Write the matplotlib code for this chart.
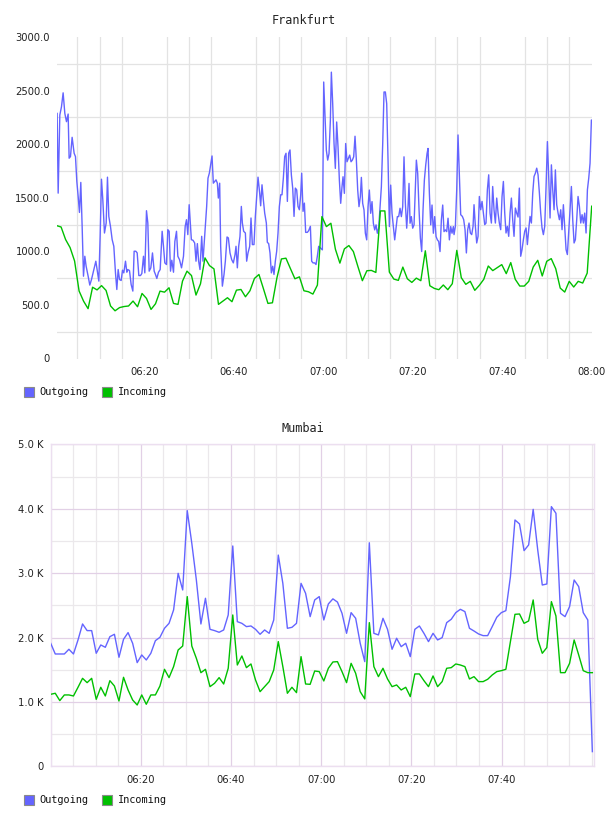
import numpy as np
import matplotlib
matplotlib.use("Agg")
import matplotlib.pyplot as plt
from matplotlib.patches import Rectangle
from matplotlib.ticker import MultipleLocator, FixedLocator

# === Data ===
SERIES = ["Outgoing", "Incoming"]
COLORS = ["#6464ff", "#00c000"]

# x values are minutes after 06:00
TIME_TICKS = [20, 40, 60, 80, 100, 120]
TIME_LABELS = ["06:20", "06:40", "07:00", "07:20", "07:40", "08:00"]

FRA_TICKS = [0, 500, 1000, 1500, 2000, 2500, 3000]
FRA_TICK_LABELS = ["0", "500.0", "1000.0", "1500.0", "2000.0", "2500.0", "3000.0"]
MUM_TICKS = [0, 1000, 2000, 3000, 4000, 5000]
MUM_TICK_LABELS = ["0", "1.0 K", "2.0 K", "3.0 K", "4.0 K", "5.0 K"]

# Frankfurt outgoing (irregular sampling)
fra_out_min = [
    0.52, 0.75, 1.12, 1.49, 1.86, 2.24, 2.61, 2.98, 3.2, 3.5, 3.87, 4.32, 4.62, 4.92, 5.22,
    5.51, 5.81, 6.11, 6.41, 6.71, 7.0, 7.45, 7.82, 8.2, 8.64, 9.17, 9.46, 9.84, 10.13, 10.43,
    10.73, 11.1, 11.48, 11.77, 12.07, 12.44, 12.82, 13.19, 13.56, 13.86, 14.16, 14.46, 14.83,
    15.13, 15.42, 15.8, 16.1, 16.32, 16.69, 17.06, 17.44, 17.73, 18.11, 18.41, 18.78, 19.15,
    19.45, 19.82, 20.12, 20.49, 20.79, 21.09, 21.46, 21.83, 22.21, 22.5, 22.8, 23.17, 23.55,
    23.99, 24.29, 24.59, 24.96, 25.26, 25.56, 25.86, 26.15, 26.53, 26.83, 27.2, 27.5, 27.87,
    28.32, 28.76, 29.14, 29.43, 29.73, 30.03,
    30.52, 30.89, 31.26, 31.56, 31.86, 32.15, 32.45, 32.83, 33.12, 33.5, 33.94, 34.24, 34.54,
    34.84, 35.14, 35.43, 35.73, 36.03, 36.33, 36.55, 36.85, 37.07, 37.45, 37.82, 38.12, 38.49,
    38.79, 39.16, 39.53, 39.9, 40.28, 40.5, 40.8, 41.1, 41.39, 41.69, 41.92, 42.21, 42.59,
    42.88, 43.18, 43.56, 43.85, 44.15, 44.52, 44.82, 45.12, 45.42, 45.79, 46.01, 46.31, 46.61,
    46.91, 47.28, 47.5, 47.8, 48.1, 48.4, 48.7, 48.99, 49.29, 49.59, 49.89, 50.19, 50.49,
    50.78, 51.08, 51.38, 51.68, 51.98, 52.27, 52.57, 52.87, 53.17, 53.47, 53.76, 54.06, 54.36,
    54.66, 54.96, 55.18, 55.48, 55.78, 56.07, 56.45, 56.74, 57.12, 57.41, 57.71, 58.09, 58.38,
    58.68, 58.98, 59.35,
    59.8, 60.1, 60.39, 60.69, 60.99, 61.29, 61.59, 61.81, 62.11, 62.41, 62.7, 63.0, 63.3, 63.6,
    63.9, 64.19, 64.42, 64.72, 65.01, 65.31, 65.61, 65.91, 66.21, 66.5, 66.8, 67.1, 67.4, 67.7,
    67.99, 68.29, 68.52, 68.81, 69.11, 69.41, 69.71, 70.01, 70.3, 70.6, 70.9, 71.2, 71.5, 71.8,
    72.09, 72.39, 72.69, 72.99, 73.29, 73.58, 73.88, 74.18, 74.48, 74.78, 75.07, 75.37, 75.67,
    75.97, 76.27, 76.56, 76.86, 77.16, 77.46, 77.76, 78.05, 78.35, 78.65, 78.95, 79.17, 79.4,
    79.69, 79.99, 80.29, 80.59, 80.81, 81.11, 81.41, 81.71, 82.0, 82.3, 82.6, 82.9, 83.2,
    83.42, 83.72, 84.02, 84.31, 84.61, 84.91, 85.21, 85.51, 85.8, 86.1, 86.4, 86.7, 86.99,
    87.29, 87.59, 87.89, 88.19, 88.49, 88.78, 89.08,
    89.23, 89.53, 89.83, 90.12, 90.42, 90.72, 91.09, 91.39, 91.69, 91.99, 92.28, 92.58, 92.88,
    93.18, 93.48, 93.7, 94.0, 94.3, 94.6, 94.89, 95.19, 95.49, 95.79, 96.09, 96.38, 96.68,
    96.98, 97.28, 97.58, 97.87, 98.17, 98.47, 98.77, 99.07, 99.36, 99.66, 99.96, 100.26,
    100.56, 100.85, 101.15, 101.45, 101.75, 102.05, 102.34, 102.64, 102.94, 103.24, 103.54,
    103.83, 104.13, 104.43, 104.73, 105.03, 105.33, 105.62, 105.92, 106.22, 106.52, 106.82,
    107.11, 107.41, 107.71, 108.01, 108.31, 108.6, 108.9, 109.2, 109.5, 109.8, 110.1, 110.39,
    110.69, 110.99, 111.29, 111.59, 111.88, 112.18, 112.48, 112.78, 113.08, 113.37, 113.67,
    113.97, 114.27, 114.56, 114.86, 115.16, 115.46, 115.76, 116.06, 116.35, 116.65, 116.95,
    117.25, 117.55, 117.85, 118.14, 118.44, 118.74, 119.04, 119.34, 119.63, 119.93, 120.0,
]
fra_out = [
    2287, 1543, 2272, 2349, 2479, 2287, 2210, 2281, 1869, 1884, 2064, 1915, 1884, 1652, 1512,
    1363, 1643, 1233, 768, 954, 861, 768, 685, 737, 815, 908, 830, 722, 1140, 1673,
    1481, 1171, 1264, 1692, 1326, 1233, 1109, 1047, 799, 644, 830, 737, 728,
    824, 799, 908, 805, 830, 821, 691, 629, 1001, 1001, 985, 774, 774,
    793, 954, 799, 1379, 1264, 815, 846, 985, 815, 784, 747, 805, 830,
    1187, 1047, 892, 877, 1202, 1187, 815, 917, 805, 1091, 1187, 954, 923,
    846, 954, 1233, 1295, 1156, 1435,
    1109, 1103, 1078, 908, 1072, 908, 830, 1140, 908, 1140, 1419, 1683, 1729,
    1807, 1890, 1636, 1652, 1667, 1636, 1497, 1636, 1047, 675, 784, 908, 1134,
    1125, 985, 923, 892, 970, 1047, 846, 1047, 1140, 1419, 1264, 1187, 1171,
    908, 985, 1047, 1311, 1063, 1063, 1326, 1512, 1692, 1543, 1425, 1621, 1481,
    1357, 1264, 1084, 1072, 985, 799, 861, 784, 908, 1001, 1171, 1419, 1528,
    1528, 1683, 1884, 1915, 1466, 1915, 1946, 1714, 1590, 1326, 1590, 1574, 1419,
    1388, 1528, 1729, 1373, 1450, 1177, 1177, 1193, 1233, 908, 892, 892, 877,
    954, 1047, 1032,
    1014, 2580, 2254, 1944, 1851, 1913, 2223, 2672, 2378, 2006, 1774, 2207, 1975, 1665,
    1448, 1603, 1696, 1541, 2006, 1836, 1867, 1898, 1836, 1851, 1882, 2074, 1851, 1572,
    1417, 1510, 1690, 1448, 1386, 1169, 1107, 1417, 1572, 1355, 1464, 1262, 1200, 1247,
    1169, 1216, 1417, 1603, 2006, 2487, 2487, 2378, 1851, 1231, 1618, 1355, 1231,
    1107, 1216, 1324, 1324, 1402, 1324, 1417, 1882, 1448, 1216, 1417, 1634, 1262,
    1324, 1216, 1247, 1587, 1851, 1727, 1386, 1123, 998, 1386, 1665, 1804, 1913,
    1960, 1541, 1247, 1432, 1169, 1324, 1138, 1107, 1092, 998, 1293, 1432, 1184,
    1200, 1184, 1309, 1107, 1231, 1169, 1231,
    1156, 1233, 1574, 2086, 1698, 1342, 1326, 1295, 1202, 985, 1202, 1264, 1171,
    1156, 1233, 1435, 1233, 1078, 1140, 1512, 1388, 1466, 1357, 1249, 1264, 1574,
    1714, 1357, 1264, 1605, 1388, 1264, 1497, 1357, 1264, 1202, 1512, 1652,
    1357, 1171, 1233, 1140, 1357, 1497, 1295, 1140, 1404, 1357, 1320,
    1590, 954, 1016, 1109, 1187, 1218, 1063, 1202, 1326, 1264, 1543,
    1698, 1729, 1776, 1714, 1543, 1357, 1218, 1156, 1233, 1605, 2024, 1698,
    1311, 1807, 1574, 1388, 1760, 1435, 1357, 1295, 1388, 1202, 1435,
    1233, 1016, 970, 1171, 1388, 1605, 1295, 1078, 1109, 1295, 1512,
    1419, 1264, 1342, 1264, 1357, 1171, 1574, 1683, 1822, 2225, 2225,
]
# Frankfurt incoming, one sample per minute
fra_in = [
    1240, 1227, 1110, 1035, 910, 630, 535, 465, 665, 640, 680, 635, 490, 445, 475, 485, 490,
    536, 483, 607, 560, 458, 511, 629, 619, 660, 514, 505, 722,
    815, 774, 592, 697, 939, 867, 836, 505, 536, 567, 530, 638, 644, 576, 632, 747, 784,
    651, 514, 520, 753, 929, 936, 839, 744, 762, 632, 623, 601, 685,
    1324, 1231, 1262, 1020, 890, 1023, 1054, 998, 859, 726, 819, 822, 803, 1377, 1377,
    806, 741, 729, 853, 744, 710, 750, 726, 1005, 679, 654, 642, 686, 642, 698,
    1009, 754, 692, 720, 636, 682, 739, 863, 820, 848, 876, 792, 895, 739, 676, 676,
    720, 854, 916, 770, 907, 932, 838, 657, 620, 720, 667, 720, 704, 797, 1421,
]

# Mumbai, one sample per minute
mum_out = [
    1910, 1744, 1744, 1744, 1817, 1744, 1962, 2210, 2107, 2107, 1755, 1884, 1848, 2013, 2050,
    1693, 1972, 2076, 1910, 1610, 1729, 1651, 1755, 1951, 2003, 2143, 2220, 2428, 2996, 2738,
    3970, 3463, 2893, 2210, 2609, 2127, 2107, 2081, 2117, 2350, 3421, 2246, 2220, 2169, 2179,
    2127, 2050, 2117, 2065, 2272, 3280, 2841, 2143, 2158, 2220, 2841, 2686, 2324, 2583, 2635,
    2272, 2521, 2600, 2550, 2376, 2065, 2386, 2298, 1910, 1625, 3471, 2065, 2040, 2298, 2127,
    1817, 1988, 1858, 1910, 1703, 2127, 2179, 2065, 1936, 2065, 1962, 1998, 2231, 2283, 2386,
    2438, 2402, 2143, 2101, 2055, 2029, 2029, 2169, 2314, 2386, 2417, 2944, 3825, 3763, 3349,
    3437, 3990, 3359, 2815, 2831, 4032, 3929, 2376, 2324, 2480, 2893, 2790, 2386, 2272, 228,
]
mum_in = [
    1118, 1134, 1020, 1108, 1108, 1092, 1227, 1366, 1299, 1366, 1040, 1227, 1092, 1330, 1247,
    1014, 1382, 1185, 1030, 952, 1108, 963, 1108, 1108, 1247, 1506, 1377, 1548, 1806, 1868,
    2635, 1868, 1677, 1454, 1506, 1237, 1289, 1377, 1278, 1522, 2350, 1573, 1713, 1532, 1589,
    1340, 1159, 1237, 1315, 1496, 1936, 1548, 1134, 1227, 1144, 1703, 1278, 1273, 1480, 1470,
    1325, 1522, 1620, 1625, 1470, 1299, 1599, 1444, 1159, 1046, 2231, 1548, 1392, 1522, 1356,
    1237, 1263, 1185, 1227, 1082, 1434, 1434, 1330, 1237, 1403, 1237, 1315, 1522, 1532, 1589,
    1573, 1548, 1356, 1392, 1315, 1315, 1351, 1418, 1470, 1485, 1506, 1936, 2360, 2365, 2220,
    2257, 2583, 1972, 1755, 1843, 2557, 2334, 1454, 1454, 1599, 1962, 1729, 1485, 1454, 1454,
]

W, H = 608, 816


def px_rect(left, top, right, bottom):
    return [left / W, 1 - bottom / H, (right - left) / W, (bottom - top) / H]


def style_ticks(ax):
    ax.tick_params(which="both", length=0, labelsize=7.2, labelcolor="#222222")
    ax.tick_params(axis="x", pad=6)
    ax.tick_params(axis="y", pad=5)


def draw_legend(fig, y_center):
    xs = [(24, 39), (102, 118)]
    for (sx, tx), name, color in zip(xs, SERIES, COLORS):
        fig.add_artist(Rectangle((sx / W, 1 - (y_center + 5) / H), 10 / W, 10 / H,
                                 transform=fig.transFigure, facecolor=color,
                                 edgecolor="#8a8a8a", lw=0.8))
        fig.text(tx / W, 1 - y_center / H, name, ha="left", va="center",
                 family="DejaVu Sans Mono", fontsize=7.4, color="#111111")


fig = plt.figure(figsize=(W / 100, H / 100), dpi=100)

# === Frankfurt ===
ax1 = fig.add_axes(px_rect(57, 37, 591.7, 358.5))
fra_in_min = np.linspace(0.4, 120.0, len(fra_in))
ax1.plot(fra_out_min, fra_out, color=COLORS[0], lw=1.0, zorder=3)
ax1.plot(fra_in_min, fra_in, color=COLORS[1], lw=1.0, zorder=4)
ax1.set_xlim(0.49, 120.0)
ax1.set_ylim(0, 3000)
ax1.set_xticks(TIME_TICKS)
ax1.set_xticklabels(TIME_LABELS)
ax1.set_yticks(FRA_TICKS)
ax1.set_yticklabels(FRA_TICK_LABELS)
ax1.xaxis.set_minor_locator(FixedLocator(np.arange(5, 121, 5)))
ax1.yaxis.set_minor_locator(FixedLocator(np.arange(250, 3000, 500)))
ax1.grid(False, which="major")
ax1.grid(True, which="minor", color="#e3e3e3", lw=0.9)
ax1.set_axisbelow(True)
for s in ax1.spines.values():
    s.set_visible(False)
style_ticks(ax1)
fig.text(304 / W, 1 - 20.5 / H, "Frankfurt", ha="center", va="center",
         family="DejaVu Sans Mono", fontsize=8.6, color="#222222")
draw_legend(fig, 392)

# === Mumbai ===
ax2 = fig.add_axes(px_rect(50.7, 444.3, 593.7, 766.3))
mum_min = np.linspace(0.0, 120.15, len(mum_out))
ax2.plot(mum_min, mum_out, color=COLORS[0], lw=1.0, zorder=3)
ax2.plot(mum_min, mum_in, color=COLORS[1], lw=1.0, zorder=4)
ax2.set_xlim(0, 120.45)
ax2.set_ylim(0, 5000)
ax2.set_xticks(TIME_TICKS[:5])
ax2.set_xticklabels(TIME_LABELS[:5])
ax2.set_yticks(MUM_TICKS)
ax2.set_yticklabels(MUM_TICK_LABELS)
ax2.xaxis.set_minor_locator(MultipleLocator(5))
ax2.yaxis.set_minor_locator(MultipleLocator(500))
ax2.grid(True, which="major", color="#e2d0e6", lw=0.9)
ax2.grid(True, which="minor", color="#ebe8eb", lw=0.9)
ax2.set_axisbelow(True)
for s in ax2.spines.values():
    s.set_color("#ecdff0")
    s.set_linewidth(1.0)
style_ticks(ax2)
fig.text(303 / W, 1 - 428 / H, "Mumbai", ha="center", va="center",
         family="DejaVu Sans Mono", fontsize=8.6, color="#222222")
draw_legend(fig, 800)

fig.savefig("out.png", dpi=100, facecolor="white")
